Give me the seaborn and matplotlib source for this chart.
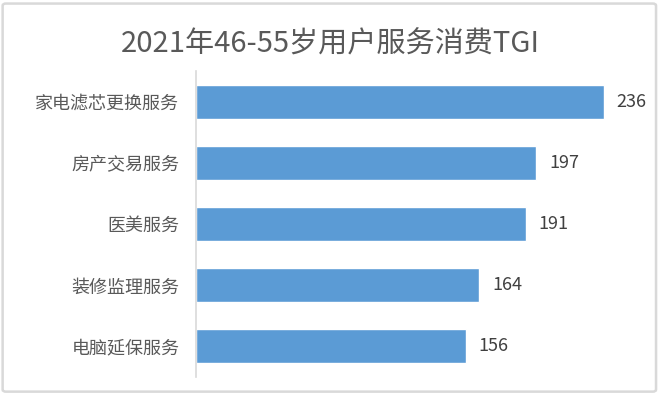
import matplotlib
matplotlib.use("Agg")
import matplotlib.pyplot as plt
import seaborn as sns
import pandas as pd
from matplotlib.patches import FancyBboxPatch

categories = ["家电滤芯更换服务", "房产交易服务", "医美服务", "装修监理服务", "电脑延保服务"]
values = [236, 197, 191, 164, 156]
title = "2021年46-55岁用户服务消费TGI"

sns.set_theme(style="white")
plt.rcParams['font.family'] = ['Noto Sans CJK SC', 'DejaVu Sans']

df = pd.DataFrame({"cat": categories, "val": values})

fig = plt.figure(figsize=(6.6, 3.94), dpi=100)
ax = fig.add_axes([0.297, 0.0431, 0.9515 - 0.297, 0.8188 - 0.0431])
sns.barplot(data=df, x="val", y="cat", orient="h", color="#5B9BD5",
            saturation=1, width=0.557, ax=ax)
ax.set_xlim(0, 250)
ax.set_ylim(4.5, -0.5)
ax.set_xlabel("")
ax.set_ylabel("")
ax.set_xticks([])
for s in ["top", "right", "bottom"]:
    ax.spines[s].set_visible(False)
ax.spines["left"].set_color("#D9D9D9")
ax.spines["left"].set_linewidth(1.2)
ax.tick_params(axis="y", length=0, pad=12, labelsize=13, labelcolor="#595959")

for c in ax.containers:
    ax.bar_label(c, labels=[str(v) for v in values], padding=9,
                 fontsize=13, color="#404040")

fig.text(0.5, 0.886, title, ha="center", va="center", fontsize=21, color="#595959")

border = FancyBboxPatch((0.004, 0.006), 0.99, 0.985, boxstyle="round,pad=0,rounding_size=0.005",
                        transform=fig.transFigure, fill=False, edgecolor="#D9D9D9", linewidth=1.8)
fig.patches.append(border)

fig.savefig("out.png", dpi=100)
